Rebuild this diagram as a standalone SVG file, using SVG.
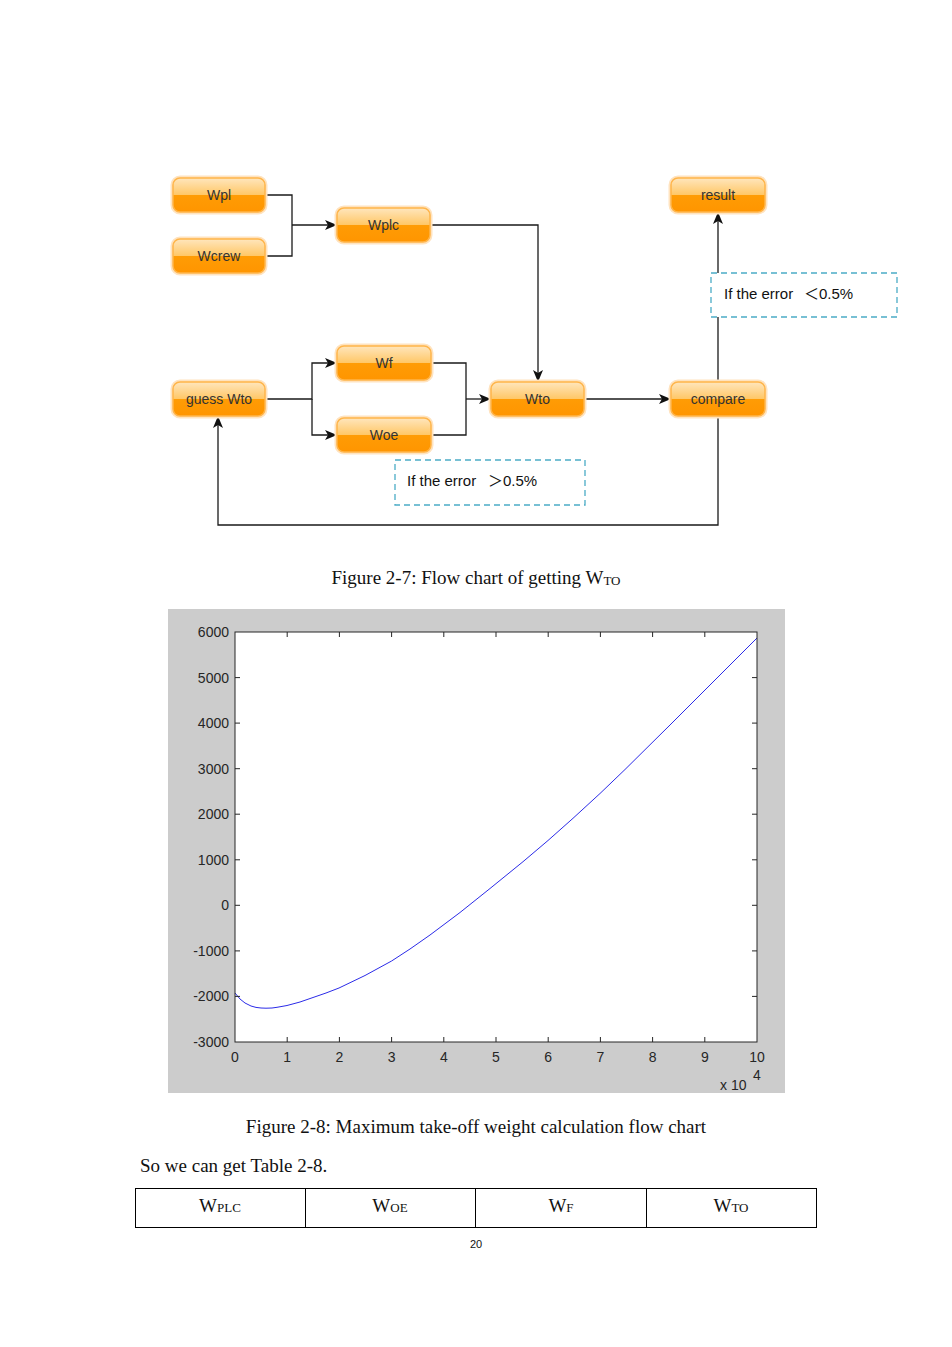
<svg xmlns="http://www.w3.org/2000/svg" width="952" height="1347" viewBox="0 0 952 1347">
<defs>
<linearGradient id="og" x1="0" y1="0" x2="0" y2="1">
<stop offset="0" stop-color="#FFE6BD"/>
<stop offset="0.5" stop-color="#FFC766"/>
<stop offset="0.5" stop-color="#FF9C05"/>
<stop offset="1" stop-color="#FF9500"/>
</linearGradient>
<marker id="arr" markerUnits="userSpaceOnUse" markerWidth="14" markerHeight="12" refX="12" refY="5" orient="auto">
<path d="M0,0 L12,5 L0,10 L3,5 Z" fill="#111"/>
</marker>
</defs>
<style>
.glow{fill:none;stroke:#FFE3BF;stroke-width:5}
.nd{fill:url(#og);stroke:#FFB54A;stroke-width:1.5}
.nt{font-family:"Liberation Sans",Arial,sans-serif;font-size:14px;fill:#333;text-anchor:middle}
.cn{fill:none;stroke:#1a1a1a;stroke-width:1.3}
.dash{fill:#fff;stroke:#4BACC6;stroke-width:1.3;stroke-dasharray:6,4}
.lbl{font-family:"Liberation Sans","Noto Sans CJK SC",sans-serif;font-size:15px;fill:#111}
.cap{font-family:"Liberation Serif","Times New Roman",serif;font-size:19px;fill:#111}
.ax{font-family:"Liberation Sans",Arial,sans-serif;font-size:14px;fill:#262626}
.axl{stroke:#262626;stroke-width:1;fill:none}
</style>
<rect width="952" height="1347" fill="#fff"/>

<g id="connectors">
<path class="cn" d="M265,195 H292 V256 H265"/>
<path class="cn" d="M292,225 H337" marker-end="url(#arr)"/>
<path class="cn" d="M430,225 H538 V382" marker-end="url(#arr)"/>
<path class="cn" d="M265,399 H312 V363 H337" marker-end="url(#arr)"/>
<path class="cn" d="M312,399 V435 H337" marker-end="url(#arr)"/>
<path class="cn" d="M431,363 H466 V435 H431"/>
<path class="cn" d="M466,399 H491" marker-end="url(#arr)"/>
<path class="cn" d="M584,399 H671" marker-end="url(#arr)"/>
<path class="cn" d="M718,382 V212" marker-end="url(#arr)"/>
<path class="cn" d="M718,416 V525 H218 V416" marker-end="url(#arr)"/>
</g>

<g id="node-wpl"><rect class="glow" x="173" y="178" width="92" height="34" rx="7"/><rect class="nd" x="173" y="178" width="92" height="34" rx="7"/><text class="nt" x="219" y="200">Wpl</text></g>
<g id="node-wcrew"><rect class="glow" x="173" y="239" width="92" height="34" rx="7"/><rect class="nd" x="173" y="239" width="92" height="34" rx="7"/><text class="nt" x="219" y="261">Wcrew</text></g>
<g id="node-wplc"><rect class="glow" x="337" y="208" width="93" height="34" rx="7"/><rect class="nd" x="337" y="208" width="93" height="34" rx="7"/><text class="nt" x="383.5" y="230">Wplc</text></g>
<g id="node-result"><rect class="glow" x="671" y="178" width="94" height="34" rx="7"/><rect class="nd" x="671" y="178" width="94" height="34" rx="7"/><text class="nt" x="718" y="200">result</text></g>
<g id="node-wf"><rect class="glow" x="337" y="346" width="94" height="34" rx="7"/><rect class="nd" x="337" y="346" width="94" height="34" rx="7"/><text class="nt" x="384" y="368">Wf</text></g>
<g id="node-guess"><rect class="glow" x="173" y="382" width="92" height="34" rx="7"/><rect class="nd" x="173" y="382" width="92" height="34" rx="7"/><text class="nt" x="219" y="404">guess Wto</text></g>
<g id="node-woe"><rect class="glow" x="337" y="418" width="94" height="34" rx="7"/><rect class="nd" x="337" y="418" width="94" height="34" rx="7"/><text class="nt" x="384" y="440">Woe</text></g>
<g id="node-wto"><rect class="glow" x="491" y="382" width="93" height="34" rx="7"/><rect class="nd" x="491" y="382" width="93" height="34" rx="7"/><text class="nt" x="537.5" y="404">Wto</text></g>
<g id="node-compare"><rect class="glow" x="671" y="382" width="94" height="34" rx="7"/><rect class="nd" x="671" y="382" width="94" height="34" rx="7"/><text class="nt" x="718" y="404">compare</text></g>

<g id="label-lt"><rect class="dash" x="711" y="273" width="186" height="44"/><text class="lbl" y="299"><tspan x="724">If the error</tspan><tspan x="804">＜0.5%</tspan></text></g>
<g id="label-gt"><rect class="dash" x="395" y="460" width="190" height="45"/><text class="lbl" y="486"><tspan x="407">If the error</tspan><tspan x="488">＞0.5%</tspan></text></g>

<text class="cap" x="476" y="584" text-anchor="middle">Figure 2-7: Flow chart of getting W<tspan font-size="13" dy="1">TO</tspan></text>

<g id="plot">
<rect x="168" y="609" width="617" height="484" fill="#CCCCCC"/>
<rect x="235" y="632" width="522" height="410" fill="#fff"/>
<polyline fill="none" stroke="#2B2BE8" stroke-width="1" points="235,993 240,999 245,1003 251,1006 256,1007.4 261,1008 266,1008.2 272,1008 277,1007.3 287,1005.5 300,1002 313,997.5 326,993 339,988 365,975.5 391.6,961 410,949 430,935 460,912.5 490,888.5 523,861.7 548,840.5 573,818.3 600,793.5 625,769.5 643,751.7 670,725 695,700 715,680 736,659 757,638"/>
<rect class="axl" x="235" y="632" width="522" height="410"/>
<path class="axl" d="M287.2,632v5M339.4,632v5M391.6,632v5M443.8,632v5M496,632v5M548.2,632v5M600.4,632v5M652.6,632v5M704.8,632v5
M287.2,1042v-5M339.4,1042v-5M391.6,1042v-5M443.8,1042v-5M496,1042v-5M548.2,1042v-5M600.4,1042v-5M652.6,1042v-5M704.8,1042v-5
M235,677.6h5M235,723.1h5M235,768.7h5M235,814.2h5M235,859.8h5M235,905.3h5M235,950.9h5M235,996.4h5
M757,677.6h-5M757,723.1h-5M757,768.7h-5M757,814.2h-5M757,859.8h-5M757,905.3h-5M757,950.9h-5M757,996.4h-5"/>
<g class="ax" text-anchor="end">
<text x="229" y="637">6000</text>
<text x="229" y="682.6">5000</text>
<text x="229" y="728.1">4000</text>
<text x="229" y="773.7">3000</text>
<text x="229" y="819.2">2000</text>
<text x="229" y="864.8">1000</text>
<text x="229" y="910.3">0</text>
<text x="229" y="955.9">-1000</text>
<text x="229" y="1001.4">-2000</text>
<text x="229" y="1047">-3000</text>
</g>
<g class="ax" text-anchor="middle">
<text x="235" y="1062">0</text>
<text x="287.2" y="1062">1</text>
<text x="339.4" y="1062">2</text>
<text x="391.6" y="1062">3</text>
<text x="443.8" y="1062">4</text>
<text x="496" y="1062">5</text>
<text x="548.2" y="1062">6</text>
<text x="600.4" y="1062">7</text>
<text x="652.6" y="1062">8</text>
<text x="704.8" y="1062">9</text>
<text x="757" y="1062">10</text>
</g>
<text class="ax" x="720" y="1090">x 10</text>
<text class="ax" x="753" y="1080" font-size="9">4</text>
</g>

<text class="cap" x="476" y="1133" text-anchor="middle">Figure 2-8: Maximum take-off weight calculation flow chart</text>
<text class="cap" x="140" y="1172">So we can get Table 2-8.</text>

<g id="table">
<rect x="135.5" y="1188.5" width="681" height="39" fill="none" stroke="#000" stroke-width="1"/>
<path d="M305.5,1188.5V1227.5M475.5,1188.5V1227.5M646.5,1188.5V1227.5" stroke="#000" stroke-width="1"/>
<g class="cap" text-anchor="middle">
<text x="220" y="1212">W<tspan font-size="13">PLC</tspan></text>
<text x="390" y="1212">W<tspan font-size="13">OE</tspan></text>
<text x="561" y="1212">W<tspan font-size="13">F</tspan></text>
<text x="731" y="1212">W<tspan font-size="13">TO</tspan></text>
</g>
</g>
<text x="476" y="1248" text-anchor="middle" font-family="Liberation Sans,Arial,sans-serif" font-size="11" fill="#111">20</text>
</svg>
